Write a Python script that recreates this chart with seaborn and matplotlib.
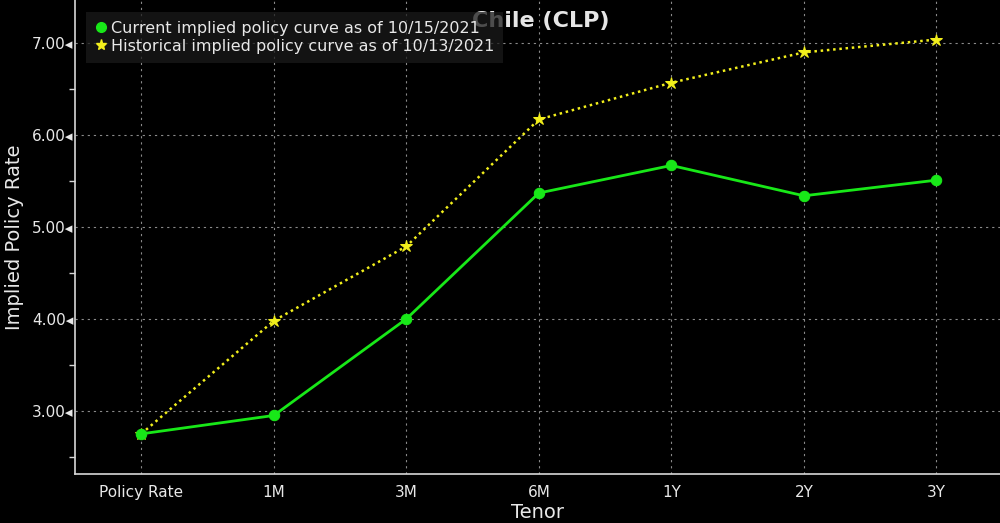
import seaborn as sns
import matplotlib.pyplot as plt
import pandas as pd
from matplotlib.lines import Line2D
from matplotlib.ticker import MultipleLocator

tenors = ['Policy Rate', '1M', '3M', '6M', '1Y', '2Y', '3Y']
current = [2.75, 2.95, 4.00, 5.37, 5.67, 5.34, 5.51]
historical = [2.75, 3.98, 4.79, 6.17, 6.57, 6.90, 7.04]
current_label = 'Current implied policy curve as of 10/15/2021'
historical_label = 'Historical implied policy curve as of 10/13/2021'

green = '#18e818'
yellow = '#f2ef1c'

df = pd.DataFrame({'Tenor': tenors, 'current': current, 'historical': historical})

sns.set_style('dark')
plt.rcParams['font.family'] = ['DejaVu Sans']

fig = plt.figure(figsize=(10, 5.23), dpi=100, facecolor='black')
ax = fig.add_axes([0.075, 0.094, 0.925, 0.906])
ax.set_facecolor('black')

sns.lineplot(ax=ax, data=df, x='Tenor', y='historical', sort=False, color=yellow,
             linestyle=(0, (1, 1.5)), linewidth=1.8, marker='*', markersize=9,
             markeredgecolor=yellow, zorder=3)
sns.lineplot(ax=ax, data=df, x='Tenor', y='current', sort=False, color=green,
             linewidth=2, marker='o', markersize=7.5, markeredgecolor=green, zorder=4)

ax.set_xlim(-0.5, 6.48)
ax.set_ylim(2.315, 7.47)
ax.yaxis.set_major_locator(MultipleLocator(1))
ax.yaxis.set_minor_locator(MultipleLocator(0.5))
ax.yaxis.set_major_formatter(lambda v, p: f'{v:.2f}\u25c2')

ax.grid(True, which='major', color='#8a8a8a', linestyle=(0, (2, 3.5)), linewidth=0.8)
for s in ['top', 'right']:
    ax.spines[s].set_visible(False)
for s in ['left', 'bottom']:
    ax.spines[s].set_visible(True)
    ax.spines[s].set_color('#d8d8d8')
    ax.spines[s].set_linewidth(1.2)

ax.tick_params(axis='y', which='major', length=0, pad=1, colors='#e8e8e8', labelsize=11)
ax.tick_params(axis='y', which='minor', left=True, length=4, width=1, color='#d8d8d8')
ax.tick_params(axis='x', length=0, pad=8, colors='#e8e8e8', labelsize=11)

ax.set_xlabel('Tenor', color='#e8e8e8', fontsize=14, labelpad=2)
ax.set_ylabel('Implied Policy Rate', color='#e8e8e8', fontsize=14, labelpad=6)

ax.text(0.504, 0.977, 'Chile (CLP)', transform=ax.transAxes, ha='center', va='top',
        fontsize=16, fontweight='bold', color='#e6e6e6', zorder=2)

handles = [
    Line2D([], [], color=green, marker='o', linestyle='none', markersize=7),
    Line2D([], [], color=yellow, marker='*', linestyle='none', markersize=8),
]
leg = ax.legend(handles, [current_label, historical_label], loc='upper left',
                bbox_to_anchor=(0.003, 0.992), frameon=True, facecolor='#1a1a1a',
                edgecolor='none', framealpha=0.75, fontsize=11.5, handletextpad=0.2,
                handlelength=0.8, borderpad=0.55, labelspacing=0.2, fancybox=False)
leg.set_zorder(5)
for t in leg.get_texts():
    t.set_color('#e8e8e8')

fig.savefig('out.png', dpi=100, facecolor='black')
